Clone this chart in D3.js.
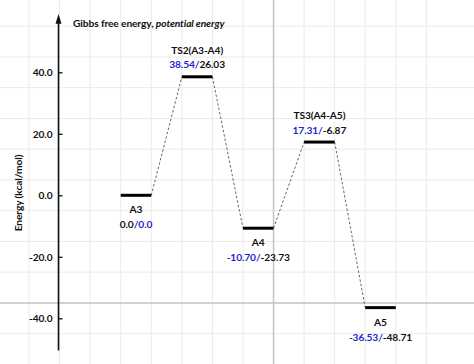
<!DOCTYPE html>
<html>
<head>
<meta charset="utf-8">
<script src="https://cdn.jsdelivr.net/npm/d3@7"></script>
<style>
  html, body { margin: 0; padding: 0; background: #fff; }
  svg text { font-family: Lato, "Open Sans", sans-serif; font-weight: 700; font-size: 10.2px; letter-spacing: -0.1px; fill: #111; }
</style>
</head>
<body>
<div id="chart"></div>
<script>
// energy profile data
const levelNames = ["A3", "TS2(A3-A4)", "A4", "TS3(A4-A5)", "A5"];
const gibbs = [0.0, 38.54, -10.70, 17.31, -36.53];
const potential = [0.0, 26.03, -23.73, -6.87, -48.71];
const yTicks = [-40, -20, 0, 20, 40];
const blueFirst = [false, true, true, true, true];

const width = 474, height = 364;
const blue = "#1f1fcc";

const svg = d3.select("#chart").append("svg")
  .attr("width", width)
  .attr("height", height);

const x = d3.scaleLinear().domain([0, 4]).range([136, 380.5]);
const y = d3.scaleLinear().domain([-40, 40]).range([318.3, 72.3]);
const halfBar = 0.25;

// background grid
const grid = svg.append("g").attr("class", "grid");
const gx = d3.range(-2.25, 5, 0.5).map(d => x(d)).filter(v => v > 0 && v < width);
const gy = d3.range(-65, 70, 10).map(d => y(d)).filter(v => v > 0 && v < height);
grid.selectAll(".gv").data(gx).enter().append("line")
  .attr("x1", d => d).attr("x2", d => d).attr("y1", 0).attr("y2", height)
  .attr("stroke", "#eaeaea").attr("stroke-width", 1);
grid.selectAll(".gh").data(gy).enter().append("line")
  .attr("x1", 0).attr("x2", width).attr("y1", d => d).attr("y2", d => d)
  .attr("stroke", "#eaeaea").attr("stroke-width", 1);
grid.append("line")
  .attr("x1", x(2 + halfBar)).attr("x2", x(2 + halfBar)).attr("y1", 0).attr("y2", height)
  .attr("stroke", "#c4c4c4").attr("stroke-width", 1.5);
grid.append("line")
  .attr("x1", 0).attr("x2", width).attr("y1", y(-35)).attr("y2", y(-35))
  .attr("stroke", "#c4c4c4").attr("stroke-width", 1.5);

// y axis
const axisX = 58.5;
const yAxis = svg.append("g")
  .attr("class", "axis")
  .attr("transform", `translate(${axisX},0)`)
  .call(d3.axisLeft(y).tickValues(yTicks).tickSize(-4).tickPadding(6)
    .tickFormat(d => d.toFixed(1)));
yAxis.select(".domain").remove();
yAxis.selectAll(".tick line").attr("stroke", "#111").attr("stroke-width", 1.3);
yAxis.selectAll(".tick text").attr("font-family", null).attr("font-size", null).attr("fill", "#111");

svg.append("line")
  .attr("x1", axisX).attr("x2", axisX)
  .attr("y1", y(-50.5)).attr("y2", y(56))
  .attr("stroke", "#111").attr("stroke-width", 1.6);
svg.append("path")
  .attr("d", `M${axisX},${y(59)} L${axisX - 3},${y(55.8)} L${axisX + 3},${y(55.8)} Z`)
  .attr("fill", "#111");

svg.append("text")
  .attr("transform", `translate(22,193) rotate(-90)`)
  .attr("text-anchor", "middle")
  .text("Energy (kcal/mol)");

// title
const title = svg.append("text").attr("x", 73).attr("y", 27);
title.append("tspan").text("Gibbs free energy, ");
title.append("tspan").attr("font-style", "italic").text("potential energy");

// dashed connectors
const links = d3.range(levelNames.length - 1);
svg.selectAll(".link").data(links).enter().append("line")
  .attr("class", "link")
  .attr("x1", i => x(i + halfBar)).attr("y1", i => y(gibbs[i]))
  .attr("x2", i => x(i + 1 - halfBar)).attr("y2", i => y(gibbs[i + 1]))
  .attr("stroke", "#666").attr("stroke-width", 1).attr("stroke-dasharray", "2.5,2");

// level bars
svg.selectAll(".level").data(gibbs).enter().append("line")
  .attr("class", "level")
  .attr("x1", (d, i) => x(i - halfBar)).attr("x2", (d, i) => x(i + halfBar))
  .attr("y1", d => y(d)).attr("y2", d => y(d))
  .attr("stroke", "#000").attr("stroke-width", 3);

// labels
const fmt = v => v === 0 ? "0.0" : v.toFixed(2);
levelNames.forEach((name, i) => {
  const isTS = name.startsWith("TS");
  const yy = y(gibbs[i]);
  const nameY = isTS ? yy - 23 : yy + 18;
  const valY = isTS ? yy - 8.5 : yy + 33;
  svg.append("text")
    .attr("x", x(i)).attr("y", nameY)
    .attr("text-anchor", "middle")
    .text(name);
  const t = svg.append("text")
    .attr("x", x(i)).attr("y", valY)
    .attr("text-anchor", "middle");
  if (blueFirst[i]) {
    t.append("tspan").attr("fill", blue).text(fmt(gibbs[i]) + "/");
    t.append("tspan").text(fmt(potential[i]));
  } else {
    t.append("tspan").text(fmt(gibbs[i]));
    t.append("tspan").attr("fill", blue).text("/" + fmt(potential[i]));
  }
});
</script>
</body>
</html>
